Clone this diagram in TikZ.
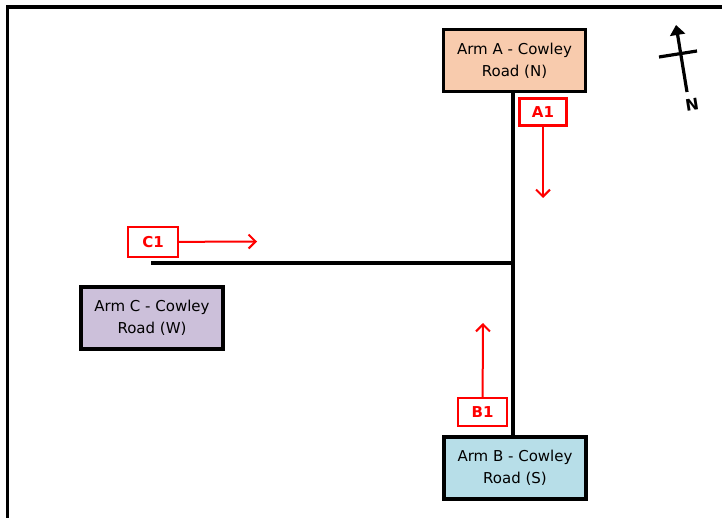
\documentclass[tikz,border=0pt]{standalone}
\usepackage{fontspec}
\setmainfont{DejaVu Sans}
\usetikzlibrary{arrows.meta, positioning}
\definecolor{armpeach}{RGB}{248,203,173}
\definecolor{armblue}{RGB}{183,222,232}
\definecolor{armlilac}{RGB}{204,192,218}
\definecolor{flowred}{RGB}{255,0,0}

\begin{document}
\begin{tikzpicture}[
    x=1pt, y=-1pt,
    arm/.style={draw,line width=3.2pt,minimum width=142pt,minimum height=62pt,
                align=center,font=\fontsize{15}{22}\selectfont,inner sep=0pt},
    flow/.style={draw=flowred,line width=2.2pt,minimum width=47pt,minimum height=27pt,
                 inner sep=0pt,text=flowred,font=\fontsize{15}{15}\selectfont\bfseries},
    farr/.style={-{Straight Barb[length=7pt,width=14pt]},flowred,line width=2pt},
    road/.style={line width=4pt}
]
  \useasboundingbox (0,0) rectangle (722,518);

  % frame
  \draw[line width=3.5pt] (7.5,518) -- (7.5,7) -- (722,7);

  % arms
  \node[arm,fill=armpeach] (armA) at (514.5,60.5) {Arm A - Cowley\\Road (N)};
  \node[arm,fill=armblue] (armB) at (515,468) {Arm B - Cowley\\Road (S)};
  \node[arm,fill=armlilac] (armC) at (152,318) {Arm C - Cowley\\Road (W)};

  % roads
  \coordinate (jn) at (512.5,263);
  \coordinate (westend) at (151,263);
  \draw[road] (armA.south -| jn) -- (armB.north -| jn);
  \draw[road] (westend) -- (jn);

  % flow labels
  \node[flow] (A1) at (543,112) {A1};
  \node[flow,minimum width=50pt,minimum height=30pt] (C1) at (153,242) {C1};
  \node[flow,minimum width=49pt,minimum height=28pt] (B1) at (482.5,412) {B1};
  \coordinate (A1end) at (543,198);
  \coordinate (C1end) at (257,241.5);
  \coordinate (B1end) at (483,323);
  \draw[farr] (A1) -- (A1end);
  \draw[farr] (C1) -- (C1end);
  \draw[farr] (B1) -- (B1end);

  % north arrow
  \coordinate (ntail) at (687,92);
  \coordinate (ntip) at (676,25);
  \coordinate (barL) at (659,57);
  \coordinate (barR) at (697,51);
  \draw[line width=3.2pt,-{Triangle[length=10pt,width=15pt]}] (ntail) -- (ntip);
  \draw[line width=3.2pt] (barL) -- (barR);
  \node[font=\fontsize{16}{16}\selectfont\bfseries,rotate=9] (nlbl) at (692,105) {N};
\end{tikzpicture}
\end{document}
